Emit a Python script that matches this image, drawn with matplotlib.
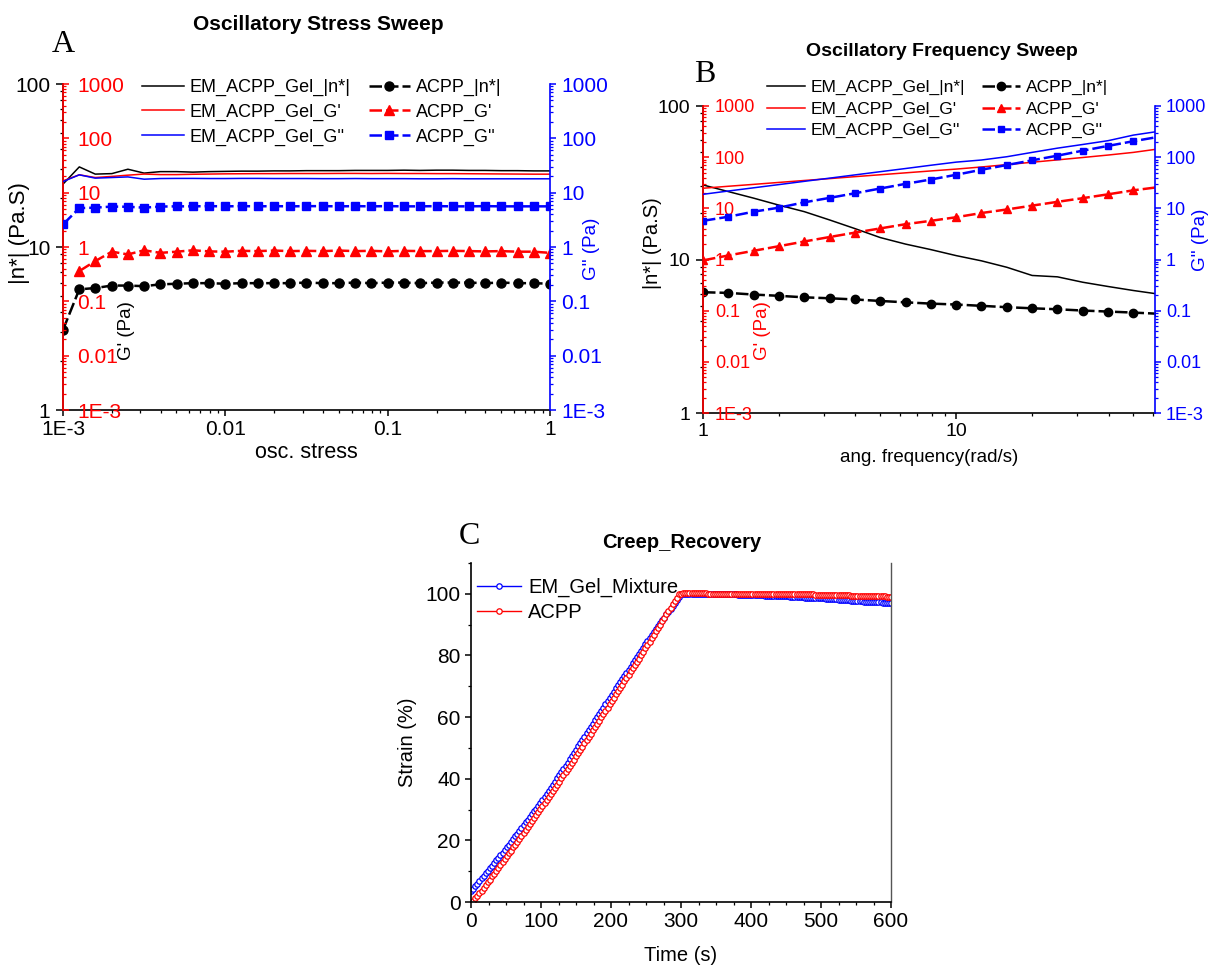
import numpy as np
import matplotlib
matplotlib.use('Agg')
import matplotlib.pyplot as plt
from matplotlib import ticker

plt.rcParams['font.family'] = 'Liberation Sans'

# ---- A: oscillatory stress sweep ----
stress = [0.001, 0.00126, 0.00158, 0.002, 0.00251, 0.00316, 0.00398, 0.00501, 0.00631, 0.00794,
          0.01, 0.0126, 0.0158, 0.02, 0.0251, 0.0316, 0.0398, 0.0501, 0.0631, 0.0794,
          0.1, 0.126, 0.158, 0.2, 0.251, 0.316, 0.398, 0.501, 0.631, 0.794, 1.0]
a_em_eta = [24.3, 31.0, 28.0, 28.2, 30.0, 28.4, 29.0, 29.0, 28.8, 29.0, 29.1, 29.2, 29.2, 29.3, 29.3, 29.4,
            29.4, 29.4, 29.5, 29.5, 29.5, 29.6, 29.5, 29.6, 29.6, 29.5, 29.5, 29.4, 29.4, 29.3, 29.3]
a_em_g1 = [16.5, 21.3, 19.0, 19.9, 21.0, 22.0, 21.5, 21.5, 21.8, 22.0, 22.2, 22.3, 22.4, 22.4, 22.5, 22.5,
           22.5, 22.6, 22.6, 22.5, 22.6, 22.5, 22.5, 22.4, 22.4, 22.3, 22.2, 22.1, 22.0, 21.9, 21.9]
a_em_g2 = [16.0, 21.3, 18.5, 19.0, 19.5, 17.7, 18.2, 18.3, 18.3, 18.2, 18.2, 18.3, 18.3, 18.2, 18.2, 18.2,
           18.1, 18.1, 18.2, 18.1, 18.1, 18.1, 18.0, 18.0, 18.1, 18.0, 18.0, 18.0, 18.0, 18.0, 18.0]
a_acpp_eta = [3.1, 5.5, 5.6, 5.8, 5.8, 5.75, 5.9, 5.95, 6.0, 6.0, 5.95, 6.0, 6.0, 6.0, 6.0, 6.05,
              6.0, 6.0, 6.05, 6.0, 6.05, 6.05, 6.0, 6.05, 6.05, 6.05, 6.0, 6.05, 6.0, 6.0, 5.95]
a_acpp_g1 = [np.nan, 0.36, 0.55, 0.82, 0.73, 0.87, 0.78, 0.82, 0.87, 0.83, 0.82, 0.85, 0.84, 0.86, 0.84, 0.85,
             0.84, 0.86, 0.84, 0.85, 0.83, 0.85, 0.84, 0.84, 0.85, 0.84, 0.83, 0.84, 0.82, 0.82, 0.78]
a_acpp_g2 = [2.6, 5.2, 5.3, 5.55, 5.5, 5.3, 5.55, 5.6, 5.6, 5.65, 5.6, 5.65, 5.6, 5.65, 5.6, 5.65,
             5.65, 5.6, 5.65, 5.6, 5.65, 5.6, 5.6, 5.65, 5.6, 5.6, 5.65, 5.6, 5.6, 5.6, 5.6]

# ---- B: oscillatory frequency sweep ----
freq = [1.0, 1.259, 1.585, 1.995, 2.512, 3.162, 3.981, 5.012, 6.310, 7.943,
        10.0, 12.59, 15.85, 19.95, 25.12, 31.62, 39.81, 50.12, 63.10]
b_em_eta = [30.6, 27.7, 25.1, 22.6, 20.5, 18.1, 15.9, 13.9, 12.6, 11.6,
            10.6, 9.8, 8.9, 7.87, 7.71, 7.11, 6.67, 6.28, 5.95]
b_em_g1 = [24.7, 27.0, 29.4, 32.1, 35.0, 38.1, 41.6, 45.3, 49.4, 53.8,
           58.5, 64.3, 71.5, 79.5, 88.5, 98.5, 110, 124, 145]
b_em_g2 = [18.8, 21.8, 25.2, 29.1, 33.7, 38.9, 45.0, 52.0, 60.0, 69.5,
           80.0, 88.0, 102, 124, 150, 177, 210, 270, 320]
b_acpp_eta = [6.12, 6.06, 5.91, 5.80, 5.67, 5.59, 5.49, 5.37, 5.26, 5.16,
              5.09, 4.99, 4.89, 4.81, 4.74, 4.65, 4.58, 4.51, 4.43]
b_acpp_g1 = [0.96, 1.2, 1.48, 1.82, 2.25, 2.75, 3.35, 4.05, 4.9, 5.7,
             6.7, 8.1, 9.5, 11.3, 13.4, 15.8, 18.8, 22.5, 26.0]
b_acpp_g2 = [5.7, 6.85, 8.6, 10.3, 13.1, 16.0, 19.7, 24.4, 30.1, 36.6,
             45.3, 56.8, 70.2, 86.7, 107, 134, 166, 205, 250]

# ---- C: creep / recovery ----
time_s = [0, 3, 6, 9, 12, 15, 18, 21, 24, 27, 30, 33, 36, 39, 42, 45, 48, 51, 54, 57,
          60, 63, 66, 69, 72, 75, 78, 81, 84, 87, 90, 93, 96, 99, 102, 105, 108, 111, 114, 117,
          120, 123, 126, 129, 132, 135, 138, 141, 144, 147, 150, 153, 156, 159, 162, 165, 168, 171, 174, 177,
          180, 183, 186, 189, 192, 195, 198, 201, 204, 207, 210, 213, 216, 219, 222, 225, 228, 231, 234, 237,
          240, 243, 246, 249, 252, 255, 258, 261, 264, 267, 270, 273, 276, 279, 282, 285, 288, 291, 294, 297,
          300, 303, 306, 309, 312, 315, 318, 321, 324, 327, 330, 333, 336, 339, 342, 345, 348, 351, 354, 357,
          360, 363, 366, 369, 372, 375, 378, 381, 384, 387, 390, 393, 396, 399, 402, 405, 408, 411, 414, 417,
          420, 423, 426, 429, 432, 435, 438, 441, 444, 447, 450, 453, 456, 459, 462, 465, 468, 471, 474, 477,
          480, 483, 486, 489, 492, 495, 498, 501, 504, 507, 510, 513, 516, 519, 522, 525, 528, 531, 534, 537,
          540, 543, 546, 549, 552, 555, 558, 561, 564, 567, 570, 573, 576, 579, 582, 585, 588, 591, 594, 597,
          600]
strain_em = [3.5, 4.3, 5.1, 6.0, 6.8, 7.7, 8.5, 9.3, 10.1, 11.0,
             11.8, 12.6, 13.5, 14.3, 15.2, 16.0, 16.8, 17.7, 18.6, 19.5,
             20.4, 21.3, 22.2, 23.1, 24.0, 24.9, 25.8, 26.7, 27.6, 28.5,
             29.4, 30.3, 31.2, 32.2, 33.1, 34.1, 35.1, 36.1, 37.1, 38.1,
             39.1, 40.1, 41.1, 42.2, 43.2, 44.2, 45.2, 46.3, 47.3, 48.4,
             49.4, 50.5, 51.5, 52.6, 53.6, 54.7, 55.7, 56.8, 57.8, 58.9,
             59.9, 61.0, 62.0, 63.1, 64.1, 65.2, 66.2, 67.3, 68.3, 69.3,
             70.3, 71.3, 72.3, 73.4, 74.4, 75.4, 76.4, 77.4, 78.5, 79.5,
             80.5, 81.5, 82.5, 83.6, 84.6, 85.6, 86.6, 87.5, 88.5, 89.4,
             90.4, 91.4, 92.3, 93.3, 94.2, 95.2, 96.2, 97.1, 98.1, 99.0,
             100.0,
             100.0, 100.0, 100.0, 100.0, 100.0, 100.0, 100.0, 99.9, 99.9, 99.9,
             99.9, 99.9, 99.9, 99.9, 99.9, 99.9, 99.9, 99.9, 99.9, 99.9,
             99.9, 99.8, 99.8, 99.8, 99.8, 99.8, 99.7, 99.7, 99.7, 99.7,
             99.7, 99.6, 99.6, 99.6, 99.6, 99.5, 99.5, 99.5, 99.5, 99.4,
             99.4, 99.4, 99.4, 99.3, 99.3, 99.3, 99.3, 99.2, 99.2, 99.2,
             99.2, 99.1, 99.1, 99.0, 99.0, 99.0, 98.9, 98.9, 98.8, 98.8,
             98.8, 98.7, 98.7, 98.6, 98.6, 98.6, 98.5, 98.5, 98.4, 98.4,
             98.3, 98.3, 98.2, 98.2, 98.1, 98.1, 98.0, 98.0, 97.9, 97.9,
             97.8, 97.8, 97.7, 97.7, 97.6, 97.6, 97.5, 97.5, 97.4, 97.4,
             97.3, 97.3, 97.2, 97.2, 97.2, 97.1, 97.1, 97.0, 97.0, 97.0]
strain_acpp = [0.0, 0.4, 1.2, 2.0, 2.8, 3.7, 4.6, 5.5, 6.4, 7.3,
               8.3, 9.2, 10.2, 11.1, 12.0, 13.0, 13.9, 14.8, 15.8, 16.7,
               17.7, 18.6, 19.6, 20.6, 21.5, 22.5, 23.4, 24.4, 25.3, 26.3,
               27.2, 28.2, 29.1, 30.1, 31.1, 32.1, 33.1, 34.0, 35.0, 36.0,
               37.0, 38.0, 39.0, 40.1, 41.1, 42.1, 43.1, 44.2, 45.2, 46.2,
               47.3, 48.3, 49.4, 50.4, 51.5, 52.5, 53.6, 54.6, 55.7, 56.7,
               57.8, 58.8, 59.9, 61.0, 62.0, 63.1, 64.2, 65.2, 66.3, 67.4,
               68.4, 69.5, 70.5, 71.6, 72.7, 73.7, 74.8, 75.8, 76.9, 78.0,
               79.0, 80.1, 81.2, 82.3, 83.4, 84.5, 85.6, 86.7, 87.8, 88.9,
               90.0, 91.1, 92.2, 93.3, 94.4, 95.5, 96.6, 97.7, 98.8, 99.8,
               100.1,
               100.2, 100.2, 100.2, 100.2, 100.2, 100.2, 100.2, 100.2, 100.2, 100.2,
               100.2, 100.2, 100.1, 100.1, 100.1, 100.1, 100.1, 100.1, 100.1, 100.1,
               100.1, 100.1, 100.1, 100.1, 100.1, 100.1, 100.1, 100.1, 100.1, 100.1,
               100.1, 100.1, 100.0, 100.0, 100.0, 100.0, 100.0, 100.0, 100.0, 100.0,
               100.0, 100.0, 100.0, 100.0, 100.0, 100.0, 100.0, 100.0, 100.0, 100.0,
               100.0, 100.0, 100.0, 99.9, 99.9, 99.9, 99.9, 99.9, 99.8, 99.8,
               99.8, 99.8, 99.8, 99.7, 99.7, 99.7, 99.7, 99.7, 99.6, 99.6,
               99.6, 99.6, 99.6, 99.6, 99.5, 99.5, 99.5, 99.5, 99.5, 99.5,
               99.4, 99.4, 99.4, 99.4, 99.4, 99.3, 99.3, 99.3, 99.3, 99.3,
               99.3, 99.3, 99.2, 99.2, 99.2, 99.2, 99.2, 99.1, 99.1, 99.1]

W, H = 1212, 969
fig = plt.figure(figsize=(W / 100, H / 100), dpi=100)


def axes_px(left, top, right, bottom):
    return fig.add_axes([left / W, 1 - bottom / H, (right - left) / W, (bottom - top) / H])


def dec_fmt(v, pos):
    if v < 0.005:
        return '1E-3'
    return '%g' % v


def log_axis(axis, lo, hi):
    e0, e1 = int(round(np.log10(lo))), int(round(np.log10(hi)))
    axis.set_major_locator(ticker.FixedLocator([10.0 ** e for e in range(e0, e1 + 1)]))
    axis.set_major_formatter(ticker.FuncFormatter(dec_fmt))
    axis.set_minor_locator(ticker.LogLocator(base=10, subs=np.arange(2, 10), numticks=60))
    axis.set_minor_formatter(ticker.NullFormatter())


def rheo_panel(box, x, xlim, xdec, data, fs, red_pad, marker_size):
    em_eta, em_g1, em_g2, acpp_eta, acpp_g1, acpp_g2 = data
    ax = axes_px(*box)
    ax.set_xscale('log')
    ax.set_yscale('log')
    ax.set_xlim(*xlim)
    ax.set_ylim(1, 100)
    log_axis(ax.xaxis, *xdec)
    log_axis(ax.yaxis, 1, 100)
    ax.spines['top'].set_visible(False)
    ax.spines['right'].set_visible(False)
    for s in ('left', 'bottom'):
        ax.spines[s].set_linewidth(1.2)
    ax.tick_params(axis='x', which='both', direction='out', top=False, labelsize=fs[0], pad=3)
    ax.tick_params(axis='x', which='major', length=4.5, width=1.1)
    ax.tick_params(axis='x', which='minor', length=2.5, width=0.9)
    ax.tick_params(axis='y', which='both', direction='out', right=False, labelsize=fs[1], pad=4)
    ax.tick_params(axis='y', which='major', length=5, width=1.1)
    ax.tick_params(axis='y', which='minor', length=2.5, width=0.9)

    # G' (red) shares the left spine, G'' (blue) sits on the right
    ax_r = ax.twinx()
    ax_b = ax.twinx()
    for a in (ax_r, ax_b):
        a.set_yscale('log')
        a.set_ylim(1e-3, 1e3)
        log_axis(a.yaxis, 1e-3, 1e3)
        for s in a.spines.values():
            s.set_visible(False)

    ax_r.yaxis.tick_left()
    ax_r.yaxis.set_label_position('left')
    ax_r.spines['left'].set_visible(True)
    ax_r.spines['left'].set_color('red')
    ax_r.spines['left'].set_linewidth(1.2)
    ax_r.tick_params(axis='y', which='both', direction='in', colors='red',
                     labelsize=fs[2], pad=red_pad)
    ax_r.tick_params(axis='y', which='major', length=4, width=1.1)
    ax_r.tick_params(axis='y', which='minor', length=2.5, width=0.9)
    plt.setp(ax_r.get_yticklabels(), ha='left')

    ax_b.spines['right'].set_visible(True)
    ax_b.spines['right'].set_color('blue')
    ax_b.spines['right'].set_linewidth(1.2)
    ax_b.tick_params(axis='y', which='both', direction='out', colors='blue',
                     labelsize=fs[2], pad=4)
    ax_b.tick_params(axis='y', which='major', length=4, width=1.1)
    ax_b.tick_params(axis='y', which='minor', length=2.5, width=0.9)

    dash = (0, (5, 1.6))
    h1, = ax.plot(x, em_eta, color='black', lw=1.1)
    h4, = ax.plot(x, acpp_eta, color='black', lw=1.8, ls=dash, marker='o', ms=marker_size)
    h2, = ax_r.plot(x, em_g1, color='red', lw=1.1)
    h5, = ax_r.plot(x, acpp_g1, color='red', lw=1.8, ls=dash, marker='^', ms=marker_size)
    h3, = ax_b.plot(x, em_g2, color='blue', lw=1.1)
    h6, = ax_b.plot(x, acpp_g2, color='blue', lw=1.8, ls=dash, marker='s', ms=marker_size - 1.2)
    handles = [h1, h2, h3, h4, h5, h6]
    labels = ['EM_ACPP_Gel_|n*|', "EM_ACPP_Gel_G'", "EM_ACPP_Gel_G''",
              'ACPP_|n*|', "ACPP_G'", "ACPP_G''"]
    return ax, ax_r, ax_b, handles, labels


# panel A
ax, ax_r, ax_b, hs, lbs = rheo_panel((63, 84, 550, 410), stress, (1e-3, 1), (1e-3, 1),
                                     (a_em_eta, a_em_g1, a_em_g2, a_acpp_eta, a_acpp_g1, a_acpp_g2),
                                     (15, 15, 15), -10, 6.5)
ax.set_xlabel('osc. stress', fontsize=15.5, va='center')
ax.xaxis.set_label_coords(0.5, -0.13)
ax.set_ylabel('|n*| (Pa.S)', fontsize=16, va='center', ha='center')
ax.yaxis.set_label_coords(-0.09, 0.543)
ax_r.set_ylabel("G' (Pa)", fontsize=13.5, color='black', va='center', ha='center')
ax_r.yaxis.set_label_coords(0.131, 0.245)
ax_b.set_ylabel("G'' (Pa)", fontsize=13.5, color='blue', va='center', ha='center')
ax_b.yaxis.set_label_coords(1.086, 0.494)
ax_b.legend(hs, lbs, ncol=2, loc='upper left', bbox_to_anchor=(142 / W, 1 - 79 / H),
            bbox_transform=fig.transFigure, frameon=False, borderaxespad=0, borderpad=0,
            fontsize=13, handlelength=2.3, handletextpad=0.33, columnspacing=1.0,
            labelspacing=0.42)
fig.text(318 / W, 1 - 24 / H, 'Oscillatory Stress Sweep', fontsize=15, fontweight='bold',
         ha='center', va='center')
fig.text(63 / W, 1 - 44 / H, 'A', family='Liberation Serif', fontsize=23, ha='center', va='center')

# panel B
ax, ax_r, ax_b, hs, lbs = rheo_panel((703, 106, 1155, 413), freq, (1, 61), (1, 10),
                                     (b_em_eta, b_em_g1, b_em_g2, b_acpp_eta, b_acpp_g1, b_acpp_g2),
                                     (14, 14, 13), -8.5, 6)
ax.set_xlabel('ang. frequency(rad/s)', fontsize=13.5, va='center')
ax.xaxis.set_label_coords(0.5, -0.145)
ax.set_ylabel('|n*| (Pa.S)', fontsize=14.5, va='center', ha='center')
ax.yaxis.set_label_coords(-0.111, 0.554)
ax_r.set_ylabel("G' (Pa)", fontsize=13.5, color='red', va='center', ha='center')
ax_r.yaxis.set_label_coords(0.131, 0.267)
ax_b.set_ylabel("G'' (Pa)", fontsize=13.5, color='blue', va='center', ha='center')
ax_b.yaxis.set_label_coords(1.10, 0.563)
ax_b.legend(hs, lbs, ncol=2, loc='upper left', bbox_to_anchor=(767 / W, 1 - 80 / H),
            bbox_transform=fig.transFigure, frameon=False, borderaxespad=0, borderpad=0,
            fontsize=12.5, handlelength=2.2, handletextpad=0.3, columnspacing=1.0,
            labelspacing=0.36)
fig.text(942 / W, 1 - 52 / H, 'Oscillatory Frequency Sweep', fontsize=14, fontweight='bold',
         ha='center', va='center')
fig.text(705 / W, 1 - 75 / H, 'B', family='Liberation Serif', fontsize=23, ha='center', va='center')

# panel C
axc = axes_px(471, 563, 891, 902)
axc.plot(time_s, strain_em, color='blue', lw=1.0, marker='o', ms=3.9, mfc='white', mew=0.9,
         label='EM_Gel_Mixture')
axc.plot(time_s, strain_acpp, color='red', lw=1.0, marker='o', ms=3.9, mfc='white', mew=0.9,
         label='ACPP')
axc.set_xlim(0, 600)
axc.set_ylim(0, 110)
axc.xaxis.set_major_locator(ticker.MultipleLocator(100))
axc.xaxis.set_minor_locator(ticker.MultipleLocator(25))
axc.yaxis.set_major_locator(ticker.FixedLocator([0, 20, 40, 60, 80, 100]))
axc.yaxis.set_minor_locator(ticker.FixedLocator([10, 30, 50, 70, 90, 110]))
axc.spines['top'].set_visible(False)
axc.spines['right'].set_color('#555555')
axc.spines['right'].set_linewidth(1.0)
for s in ('left', 'bottom'):
    axc.spines[s].set_linewidth(1.2)
axc.tick_params(which='both', direction='out', top=False, right=False, labelsize=15, pad=3)
axc.tick_params(which='major', length=4.5, width=1.1)
axc.tick_params(which='minor', length=2.5, width=0.9)
axc.set_xlabel('Time (s)', fontsize=14.5, va='center')
axc.xaxis.set_label_coords(0.498, -0.157)
axc.set_ylabel('Strain (%)', fontsize=14.5, va='center', ha='center')
axc.yaxis.set_label_coords(-0.152, 0.472)
axc.legend(loc='upper left', bbox_to_anchor=(477 / W, 1 - 578 / H), bbox_transform=fig.transFigure,
           frameon=False, borderaxespad=0, borderpad=0, fontsize=14.5, handlelength=2.2,
           handletextpad=0.34, labelspacing=0.28)
fig.text(682 / W, 1 - 542 / H, 'Creep_Recovery', fontsize=14.5, fontweight='bold',
         ha='center', va='center')
fig.text(469 / W, 1 - 537 / H, 'C', family='Liberation Serif', fontsize=23, ha='center', va='center')

fig.savefig('out.png', dpi=100)
